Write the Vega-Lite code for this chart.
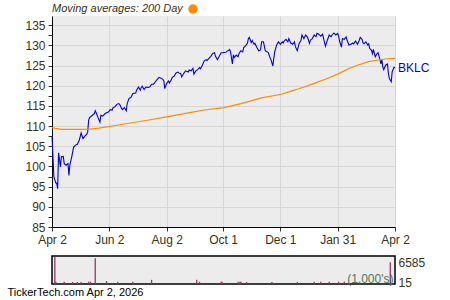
{
"$schema": "https://vega.github.io/schema/vega-lite/v6.json",
"background": "white",
"padding": {"left": 6, "top": 4, "right": 0, "bottom": 0},
"spacing": 10,
"config": {
  "font": "Liberation Sans",
  "view": {"stroke": null},
  "axis": {"labelFont": "Liberation Sans", "labelFontSize": 12, "labelColor": "#3c3218", "tickColor": "#333333", "domainColor": "black", "tickSize": 4, "labelPadding": 3, "gridColor": "#d6d6d6", "title": null, "labelOverlap": false}
},
"datasets": {
"price": [
{"date":"2025-04-02","close":107.5},{"date":"2025-04-03","close":102.4},{"date":"2025-04-04","close":97.4},{"date":"2025-04-06","close":95.9},{"date":"2025-04-07","close":95.9},{"date":"2025-04-08","close":94.5},{"date":"2025-04-09","close":103.4},{"date":"2025-04-11","close":99.9},{"date":"2025-04-12","close":102.4},{"date":"2025-04-14","close":102.5},{"date":"2025-04-15","close":100.7},{"date":"2025-04-17","close":100.3},{"date":"2025-04-19","close":100.7},{"date":"2025-04-20","close":97.8},{"date":"2025-04-21","close":100.4},{"date":"2025-04-23","close":102.4},{"date":"2025-04-25","close":104.8},{"date":"2025-04-27","close":105.3},{"date":"2025-04-29","close":105.5},
{"date":"2025-05-01","close":106.5},{"date":"2025-05-03","close":108.3},{"date":"2025-05-05","close":106.9},{"date":"2025-05-07","close":107.5},{"date":"2025-05-09","close":108.0},{"date":"2025-05-10","close":108.6},{"date":"2025-05-11","close":111.5},{"date":"2025-05-12","close":112.1},{"date":"2025-05-15","close":112.7},{"date":"2025-05-17","close":113.1},{"date":"2025-05-18","close":113.8},{"date":"2025-05-19","close":113.3},{"date":"2025-05-21","close":112.1},{"date":"2025-05-23","close":111.0},{"date":"2025-05-24","close":112.7},{"date":"2025-05-26","close":112.5},{"date":"2025-05-28","close":113.0},{"date":"2025-05-30","close":113.3},
{"date":"2025-06-01","close":113.5},{"date":"2025-06-03","close":114.1},{"date":"2025-06-05","close":114.0},{"date":"2025-06-06","close":114.6},{"date":"2025-06-08","close":114.8},{"date":"2025-06-10","close":115.4},{"date":"2025-06-12","close":115.6},{"date":"2025-06-13","close":115.4},{"date":"2025-06-15","close":114.4},{"date":"2025-06-16","close":114.1},{"date":"2025-06-18","close":114.6},{"date":"2025-06-20","close":113.8},{"date":"2025-06-21","close":115.6},{"date":"2025-06-23","close":116.9},{"date":"2025-06-25","close":117.1},{"date":"2025-06-27","close":118.1},{"date":"2025-06-30","close":118.2},
{"date":"2025-07-01","close":118.9},{"date":"2025-07-03","close":119.7},{"date":"2025-07-05","close":118.9},{"date":"2025-07-06","close":119.6},{"date":"2025-07-07","close":119.9},{"date":"2025-07-09","close":119.1},{"date":"2025-07-11","close":119.7},{"date":"2025-07-13","close":119.6},{"date":"2025-07-15","close":119.7},{"date":"2025-07-17","close":120.4},{"date":"2025-07-19","close":120.4},{"date":"2025-07-21","close":121.0},{"date":"2025-07-23","close":121.6},{"date":"2025-07-25","close":122.1},{"date":"2025-07-27","close":121.9},{"date":"2025-07-29","close":121.6},{"date":"2025-07-30","close":121.2},{"date":"2025-07-31","close":119.3},
{"date":"2025-08-02","close":120.6},{"date":"2025-08-04","close":121.2},{"date":"2025-08-05","close":120.7},{"date":"2025-08-07","close":121.5},{"date":"2025-08-08","close":122.1},{"date":"2025-08-10","close":122.4},{"date":"2025-08-12","close":123.2},{"date":"2025-08-14","close":123.4},{"date":"2025-08-15","close":123.2},{"date":"2025-08-17","close":123.0},{"date":"2025-08-18","close":122.2},{"date":"2025-08-20","close":123.0},{"date":"2025-08-22","close":123.7},{"date":"2025-08-25","close":123.4},{"date":"2025-08-26","close":123.9},{"date":"2025-08-28","close":123.7},{"date":"2025-08-30","close":124.3},{"date":"2025-08-31","close":122.9},
{"date":"2025-09-02","close":123.7},{"date":"2025-09-04","close":124.0},{"date":"2025-09-06","close":124.5},{"date":"2025-09-07","close":124.2},{"date":"2025-09-09","close":125.1},{"date":"2025-09-11","close":126.2},{"date":"2025-09-13","close":126.5},{"date":"2025-09-14","close":126.3},{"date":"2025-09-16","close":126.8},{"date":"2025-09-18","close":127.3},{"date":"2025-09-20","close":128.0},{"date":"2025-09-22","close":128.2},{"date":"2025-09-23","close":127.3},{"date":"2025-09-25","close":126.5},{"date":"2025-09-27","close":127.3},{"date":"2025-09-29","close":128.2},
{"date":"2025-10-01","close":128.2},{"date":"2025-10-04","close":128.3},{"date":"2025-10-06","close":128.7},{"date":"2025-10-08","close":129.0},{"date":"2025-10-09","close":128.4},{"date":"2025-10-11","close":125.4},{"date":"2025-10-12","close":127.7},{"date":"2025-10-13","close":127.0},{"date":"2025-10-15","close":127.6},{"date":"2025-10-17","close":127.2},{"date":"2025-10-18","close":128.0},{"date":"2025-10-20","close":128.7},{"date":"2025-10-22","close":128.4},{"date":"2025-10-23","close":129.5},{"date":"2025-10-25","close":129.9},{"date":"2025-10-27","close":130.6},{"date":"2025-10-28","close":131.7},{"date":"2025-10-29","close":132.0},{"date":"2025-10-31","close":130.7},
{"date":"2025-11-01","close":131.2},{"date":"2025-11-03","close":130.3},{"date":"2025-11-04","close":130.5},{"date":"2025-11-06","close":129.5},{"date":"2025-11-08","close":128.7},{"date":"2025-11-10","close":128.9},{"date":"2025-11-11","close":130.9},{"date":"2025-11-13","close":130.9},{"date":"2025-11-15","close":128.7},{"date":"2025-11-16","close":128.5},{"date":"2025-11-18","close":128.3},{"date":"2025-11-20","close":127.0},{"date":"2025-11-21","close":126.5},{"date":"2025-11-23","close":124.9},{"date":"2025-11-24","close":126.8},{"date":"2025-11-25","close":128.4},{"date":"2025-11-27","close":130.1},{"date":"2025-11-29","close":130.9},
{"date":"2025-12-01","close":130.3},{"date":"2025-12-03","close":130.9},{"date":"2025-12-04","close":130.6},{"date":"2025-12-05","close":131.1},{"date":"2025-12-07","close":131.5},{"date":"2025-12-09","close":130.9},{"date":"2025-12-10","close":131.7},{"date":"2025-12-12","close":130.6},{"date":"2025-12-14","close":130.3},{"date":"2025-12-16","close":130.9},{"date":"2025-12-17","close":129.7},{"date":"2025-12-19","close":128.7},{"date":"2025-12-21","close":130.5},{"date":"2025-12-23","close":131.3},{"date":"2025-12-24","close":132.6},{"date":"2025-12-26","close":131.7},{"date":"2025-12-28","close":132.6},{"date":"2025-12-30","close":132.0},
{"date":"2026-01-01","close":130.5},{"date":"2026-01-02","close":131.3},{"date":"2026-01-04","close":131.7},{"date":"2026-01-06","close":132.6},{"date":"2026-01-08","close":132.2},{"date":"2026-01-09","close":133.0},{"date":"2026-01-11","close":132.8},{"date":"2026-01-13","close":132.3},{"date":"2026-01-15","close":132.8},{"date":"2026-01-16","close":131.7},{"date":"2026-01-18","close":129.8},{"date":"2026-01-20","close":131.3},{"date":"2026-01-22","close":132.6},{"date":"2026-01-24","close":132.2},{"date":"2026-01-25","close":132.6},{"date":"2026-01-27","close":133.1},{"date":"2026-01-29","close":132.6},{"date":"2026-01-31","close":133.0},
{"date":"2026-02-01","close":132.3},{"date":"2026-02-02","close":131.1},{"date":"2026-02-04","close":129.6},{"date":"2026-02-05","close":131.7},{"date":"2026-02-07","close":131.5},{"date":"2026-02-09","close":132.1},{"date":"2026-02-10","close":131.3},{"date":"2026-02-12","close":130.1},{"date":"2026-02-14","close":130.3},{"date":"2026-02-16","close":130.6},{"date":"2026-02-17","close":130.4},{"date":"2026-02-19","close":131.1},{"date":"2026-02-21","close":130.3},{"date":"2026-02-23","close":131.3},{"date":"2026-02-24","close":132.0},{"date":"2026-02-26","close":131.5},{"date":"2026-02-27","close":130.6},{"date":"2026-02-28","close":130.4},
{"date":"2026-03-02","close":130.9},{"date":"2026-03-04","close":130.1},{"date":"2026-03-05","close":130.4},{"date":"2026-03-06","close":129.3},{"date":"2026-03-08","close":128.8},{"date":"2026-03-09","close":128.0},{"date":"2026-03-10","close":129.0},{"date":"2026-03-12","close":127.2},{"date":"2026-03-14","close":128.0},{"date":"2026-03-15","close":128.2},{"date":"2026-03-17","close":126.5},{"date":"2026-03-18","close":125.4},{"date":"2026-03-19","close":126.5},{"date":"2026-03-20","close":124.7},{"date":"2026-03-21","close":124.0},{"date":"2026-03-23","close":125.1},{"date":"2026-03-25","close":125.4},{"date":"2026-03-26","close":123.0},{"date":"2026-03-27","close":121.8},{"date":"2026-03-29","close":121.0},{"date":"2026-03-30","close":123.5},
{"date":"2026-04-01","close":124.6},{"date":"2026-04-02","close":124.5}
],
"ma": [
{"date":"2025-04-02","ma":109.6},{"date":"2025-04-12","ma":109.2},{"date":"2025-05-10","ma":109.2},{"date":"2025-05-22","ma":109.5},{"date":"2025-06-15","ma":110.4},{"date":"2025-07-11","ma":111.4},{"date":"2025-08-02","ma":112.3},{"date":"2025-08-28","ma":113.4},{"date":"2025-09-11","ma":114.0},{"date":"2025-10-02","ma":114.6},{"date":"2025-10-20","ma":115.6},{"date":"2025-11-11","ma":117.0},{"date":"2025-12-02","ma":117.9},{"date":"2025-12-14","ma":118.8},{"date":"2025-12-20","ma":119.2},{"date":"2026-01-06","ma":120.6},{"date":"2026-01-20","ma":121.8},{"date":"2026-01-31","ma":122.9},{"date":"2026-02-12","ma":124.3},{"date":"2026-02-21","ma":125.1},{"date":"2026-03-05","ma":126.0},{"date":"2026-03-15","ma":126.4},{"date":"2026-03-25","ma":126.7},{"date":"2026-04-02","ma":126.8}
],
"label": [{"date":"2026-04-02","close":124.5,"name":"BKLC"}],
"vol": [
{"date":"2025-04-05","vol":8300},{"date":"2025-04-06","vol":200},{"date":"2025-04-15","vol":250},{"date":"2025-04-24","vol":150},{"date":"2025-04-29","vol":150},{"date":"2025-05-03","vol":150},{"date":"2025-05-11","vol":250},{"date":"2025-05-13","vol":250},{"date":"2025-05-18","vol":7900},{"date":"2025-05-30","vol":450},{"date":"2025-06-11","vol":200},{"date":"2025-06-27","vol":250},{"date":"2025-07-17","vol":850},{"date":"2025-09-03","vol":850},{"date":"2025-09-06","vol":250},{"date":"2025-09-29","vol":250},{"date":"2025-09-30","vol":250},{"date":"2025-10-17","vol":200},{"date":"2025-10-19","vol":250},{"date":"2025-10-20","vol":200},{"date":"2025-10-26","vol":150},{"date":"2025-11-22","vol":150},{"date":"2025-12-19","vol":150},{"date":"2026-01-06","vol":200},{"date":"2026-01-13","vol":250},{"date":"2026-01-22","vol":200},{"date":"2026-02-01","vol":250},{"date":"2026-02-07","vol":300},{"date":"2026-03-28","vol":6585}
]
},
"vconcat": [
{
  "width": 343, "height": 211,
  "view": {"fill": "#ececec", "stroke": null},
  "resolve": {"axis": {"y": "independent"}},
  "layer": [
    {
      "data": {"name": "price"},
      "mark": {"type": "line", "color": "#0000e6", "strokeWidth": 1.1},
      "encoding": {
        "x": {"field": "date", "type": "temporal",
          "scale": {"type": "utc", "domain": [{"year": 2025, "month": 4, "date": 2, "utc": true}, {"year": 2026, "month": 4, "date": 2, "utc": true}]},
          "axis": {
            "values": [
              {"year": 2025, "month": 4, "date": 2, "utc": true},
              {"year": 2025, "month": 5, "date": 2, "utc": true},
              {"year": 2025, "month": 6, "date": 2, "utc": true},
              {"year": 2025, "month": 7, "date": 2, "utc": true},
              {"year": 2025, "month": 8, "date": 2, "utc": true},
              {"year": 2025, "month": 9, "date": 1, "utc": true},
              {"year": 2025, "month": 10, "date": 1, "utc": true},
              {"year": 2025, "month": 11, "date": 1, "utc": true},
              {"year": 2025, "month": 12, "date": 1, "utc": true},
              {"year": 2025, "month": 12, "date": 31, "utc": true},
              {"year": 2026, "month": 1, "date": 31, "utc": true},
              {"year": 2026, "month": 3, "date": 2, "utc": true},
              {"year": 2026, "month": 4, "date": 2, "utc": true}
            ],
            "labelExpr": "indexof(['Apr 2','Jun 2','Aug 2','Oct 1','Dec 1','Jan 31'], utcFormat(datum.value, '%b %-d')) >= 0 ? utcFormat(datum.value, '%b %-d') : ''",
            "gridOpacity": {"condition": {"test": "indexof(['Apr 2','Jun 2','Aug 2','Oct 1','Dec 1','Jan 31'], utcFormat(datum.value, '%b %-d')) < 0", "value": 0}, "value": 1},
            "labelFlush": false,
            "labelOverlap": false
          }
        },
        "y": {"field": "close", "type": "quantitative",
          "scale": {"domain": [85, 137.3], "nice": false, "zero": false},
          "axis": {
            "values": [85, 90, 95, 100, 105, 110, 115, 120, 125, 130, 135],
            "labelOverlap": false,
            "labelFlush": false,
            "labelBound": false
          }
        }
      }
    },
    {
      "data": {"name": "ma"},
      "mark": {"type": "line", "strokeWidth": 1.2},
      "encoding": {
        "x": {"field": "date", "type": "temporal"},
        "y": {"field": "ma", "type": "quantitative",
          "axis": {"orient": "left", "values": [87.5, 92.5, 97.5, 102.5, 107.5, 112.5, 117.5, 122.5, 127.5, 132.5], "labels": false, "grid": false, "domain": false, "ticks": true, "tickSize": 4}},
        "color": {"datum": "200 Day", "scale": {"domain": ["200 Day"], "range": ["#ff8c00"]},
          "legend": {"orient": "top", "title": "Moving averages: 200 Day", "titleOrient": "left", "titleFontStyle": "italic", "titleFontWeight": "normal", "titleFontSize": 11, "titleFont": "Liberation Sans", "titleColor": "#3c3218", "titlePadding": 5, "labelExpr": "''", "symbolType": "circle", "symbolSize": 90, "symbolFillColor": "#ff8c00", "symbolStrokeColor": "#ff8c00", "symbolStrokeWidth": 0, "offset": 2, "padding": 0}
        }
      }
    },
    {
      "data": {"name": "label"},
      "mark": {"type": "text", "align": "left", "baseline": "middle", "dx": 3, "color": "#0000e6", "fontSize": 12, "font": "Liberation Sans"},
      "encoding": {
        "x": {"field": "date", "type": "temporal"},
        "y": {"field": "close", "type": "quantitative", "axis": null},
        "text": {"field": "name"}
      }
    }
  ]
},
{
  "width": 343, "height": 28,
  "view": {"fill": "#ececec", "stroke": "black", "strokeWidth": 1.5},
  "data": {"name": "vol"},
  "mark": {"type": "rule", "color": "#993366", "strokeWidth": 1.3},
  "encoding": {
    "x": {"field": "date", "type": "temporal", "scale": {"type": "utc", "domain": [{"year": 2025, "month": 4, "date": 2, "utc": true}, {"year": 2026, "month": 4, "date": 2, "utc": true}]},
      "axis": {"labels": false, "ticks": false, "domain": false, "grid": false, "title": "TickerTech.com  Apr 2, 2026", "titleAnchor": "start", "titleAlign": "left", "titleX": -45, "titlePadding": 2, "titleFont": "Liberation Sans", "titleFontSize": 11, "titleFontWeight": "normal", "titleColor": "black"}},
    "y": {"field": "vol", "type": "quantitative", "scale": {"domain": [-500, 8600], "nice": false, "zero": false},
      "axis": {"orient": "right", "values": [15, 6585], "format": "d", "grid": false, "ticks": false, "domain": false, "labelPadding": 3, "labelFlush": false,
        "title": "(1,000's)", "titleAngle": 0, "titleAlign": "right", "titleBaseline": "bottom", "titleX": -2, "titleY": 29, "titleFont": "Liberation Sans", "titleFontSize": 12, "titleFontWeight": "normal", "titleColor": "#4a7a5a"}},
    "y2": {"datum": -500}
  }
}
]
}
